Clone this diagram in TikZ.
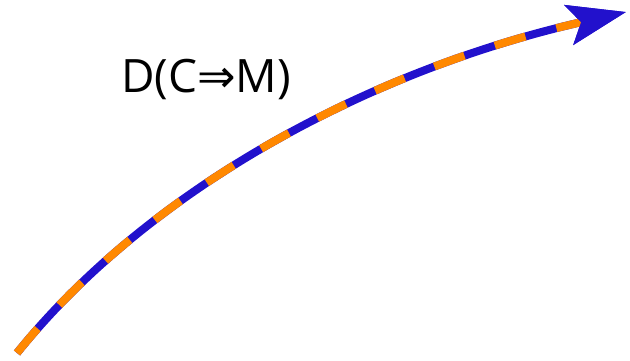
\documentclass[tikz,border=0pt]{standalone}
\usepackage{fontspec}
\setmainfont{Open Sans}
\newfontfamily\symfont{DejaVu Sans}
\usetikzlibrary{arrows.meta}
\definecolor{arrowblue}{HTML}{2211CC}
\definecolor{dashorange}{HTML}{FF8800}
\tikzset{
  tiparrow/.style={-{Stealth[length=58pt, width=40pt, inset=12pt, color=arrowblue, fill=arrowblue]}},
  curvebase/.style={draw=arrowblue, line width=8pt, line cap=butt, tiparrow},
  curvedash/.style={draw=dashorange, line width=8pt, line cap=butt, tiparrow,
    dash pattern=on 32pt off 32pt},
  lbl/.style={font=\fontsize{46}{54}\selectfont, inner sep=0pt, anchor=base west, text=black}
}
\begin{document}
\begin{tikzpicture}[x=1pt,y=1pt]
  \useasboundingbox (0,0) rectangle (630,360);
  \coordinate (s) at (17,7);
  \coordinate (e) at (626,348);
  \draw[curvebase] (s) .. controls (150,172) and (370,290) .. (e);
  \draw[curvedash] (s) .. controls (150,172) and (370,290) .. (e);
  \node[lbl] (label) at (121,268) {D(C{\symfont ⇒}M)};
\end{tikzpicture}
\end{document}
